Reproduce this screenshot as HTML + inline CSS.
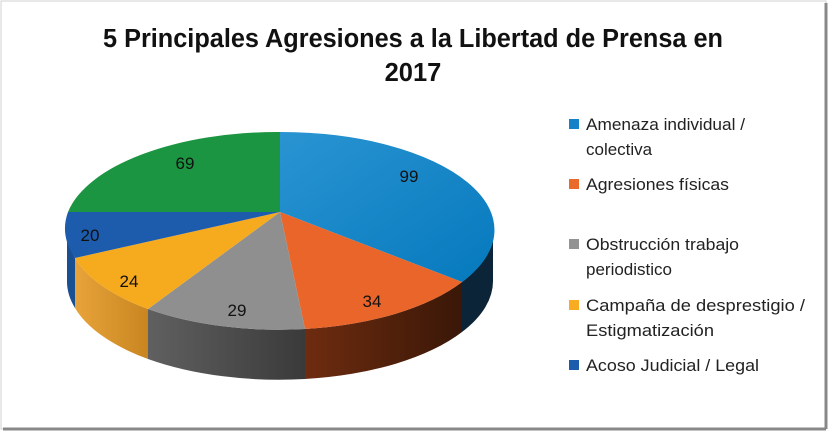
<!DOCTYPE html>
<html><head><meta charset="utf-8"><style>
body{margin:0;background:#fff;}
svg{display:block;font-family:"Liberation Sans",sans-serif;}
</style></head><body>
<svg width="830" height="431" viewBox="0 0 830 431">
<defs>
<linearGradient id="gb" x1="0" y1="0" x2="1" y2="1"><stop offset="0" stop-color="#2a94d2"/><stop offset="1" stop-color="#0579bd"/></linearGradient>
<linearGradient id="so" x1="0" y1="0" x2="1" y2="0"><stop offset="0" stop-color="#6e2c10"/><stop offset="1" stop-color="#3a1707"/></linearGradient>
<linearGradient id="sg" x1="0" y1="0" x2="1" y2="0"><stop offset="0" stop-color="#606060"/><stop offset="1" stop-color="#3a3a3a"/></linearGradient>
<linearGradient id="sy" x1="0" y1="0" x2="1" y2="0"><stop offset="0" stop-color="#e8a43a"/><stop offset="1" stop-color="#c98520"/></linearGradient>
</defs>
<rect x="1" y="1" width="825" height="428" fill="#fff" stroke="#d0d0d0"/>
<line x1="826" y1="3" x2="826" y2="429" stroke="#888" stroke-width="3"/>
<line x1="3" y1="429" x2="826" y2="429" stroke="#888" stroke-width="3"/>
<text x="413" y="47" text-anchor="middle" font-size="25.5" font-weight="bold" fill="#111" textLength="620" lengthAdjust="spacingAndGlyphs">5 Principales Agresiones a la Libertad de Prensa en</text>
<text x="413" y="81" text-anchor="middle" font-size="25.5" font-weight="bold" fill="#111">2017</text>
<path d="M493,230 A213,98 0 0 1 462,282 L462,332 A213,98 0 0 0 493,280 Z" fill="#0b2437"/>
<path d="M462,282 A213,98 0 0 1 305,329 L305,379 A213,98 0 0 0 462,332 Z" fill="url(#so)"/>
<path d="M305,329 A213,98 0 0 1 148,309 L148,359 A213,98 0 0 0 305,379 Z" fill="url(#sg)"/>
<path d="M148,309 A213,98 0 0 1 75,258 L75,308 A213,98 0 0 0 148,359 Z" fill="url(#sy)"/>
<path d="M75,258 A213,98 0 0 1 67,230 L67,280 A213,98 0 0 0 75,308 Z" fill="#1a4f92"/>
<path d="M280,212 L280,132 A213,98 0 0 1 462,282 Z" fill="url(#gb)"/>
<path d="M280,212 L462,282 A213,98 0 0 1 305,329 Z" fill="#e9652a"/>
<path d="M280,212 L305,329 A213,98 0 0 1 148,309 Z" fill="#8f8f8f"/>
<path d="M280,212 L148,309 A213,98 0 0 1 75,258 Z" fill="#f6aa1e"/>
<path d="M280,212 L75,258 A213,98 0 0 1 68,212 Z" fill="#1d5cad"/>
<path d="M280,212 L68,212 A213,98 0 0 1 280,132 Z" fill="#1b9541"/>
<g font-size="17" fill="#111" text-anchor="middle">
<text x="409" y="182">99</text>
<text x="372" y="307">34</text>
<text x="237" y="316">29</text>
<text x="129" y="287">24</text>
<text x="90" y="241">20</text>
<text x="185" y="169">69</text>
</g>
<g font-size="17" fill="#222">
<rect x="569" y="119" width="10" height="10" fill="#1582c8"/>
<text x="586" y="130" textLength="159" lengthAdjust="spacingAndGlyphs">Amenaza individual /</text>
<text x="586" y="155">colectiva</text>
<rect x="569" y="179" width="10" height="10" fill="#ea6a2c"/>
<text x="586" y="190" textLength="143" lengthAdjust="spacingAndGlyphs">Agresiones físicas</text>
<rect x="569" y="239" width="10" height="10" fill="#939393"/>
<text x="586" y="250" textLength="153" lengthAdjust="spacingAndGlyphs">Obstrucción trabajo</text>
<text x="586" y="275">periodistico</text>
<rect x="569" y="300" width="10" height="10" fill="#f7ac22"/>
<text x="586" y="311" textLength="219" lengthAdjust="spacingAndGlyphs">Campaña de desprestigio /</text>
<text x="586" y="336" textLength="128" lengthAdjust="spacingAndGlyphs">Estigmatización</text>
<rect x="569" y="360" width="10" height="10" fill="#1d5cad"/>
<text x="586" y="371" textLength="173" lengthAdjust="spacingAndGlyphs">Acoso Judicial / Legal</text>
</g>
</svg>
</body></html>
